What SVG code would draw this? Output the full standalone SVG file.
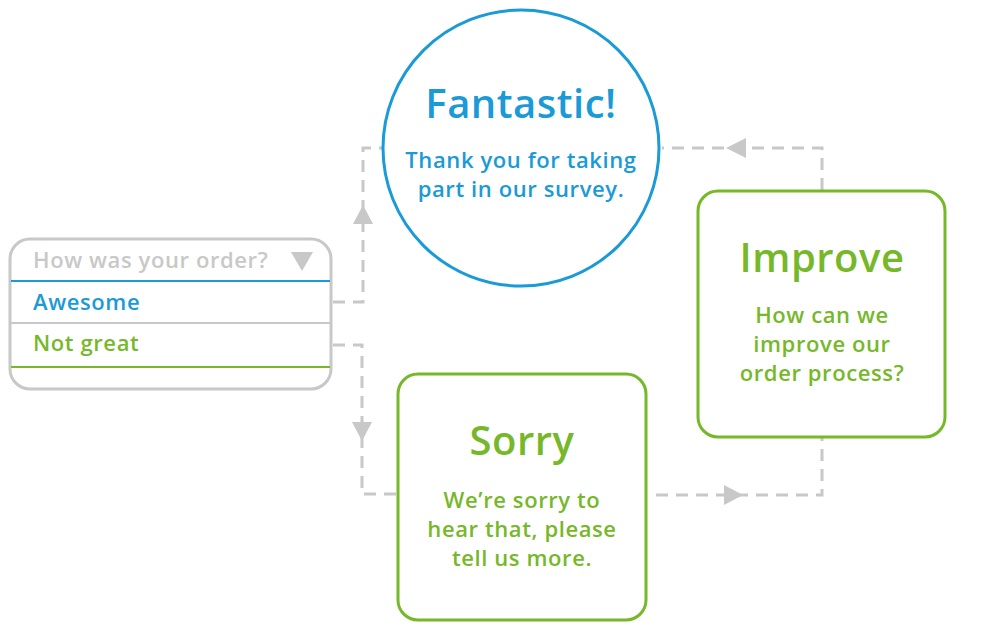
<svg xmlns="http://www.w3.org/2000/svg" width="997" height="635" viewBox="0 0 997 635">
<defs>
<style>
.t{font-family:"Open Sans","Liberation Sans",sans-serif;font-weight:600;text-anchor:middle}
.blue{fill:#1a9ad6}
.green{fill:#76b82a}
.big{font-size:40px;letter-spacing:0.5px}
.sm{font-size:22px;letter-spacing:0.6px}
.dd{font-family:"Open Sans","Liberation Sans",sans-serif;font-weight:600;font-size:22px;letter-spacing:0.6px}
.conn{fill:none;stroke:#c8c8c8;stroke-width:3;stroke-dasharray:12 8}
.arr{fill:#c8c8c8}
</style>
</defs>
<rect width="997" height="635" fill="#ffffff"/>
<g id="connectors">
<path class="conn" d="M333 302 H363 V148 H383"/>
<polygon class="arr" points="363,205 353,224 373,224"/>
<path class="conn" d="M333 345 H362 V494 H398"/>
<polygon class="arr" points="362,441 352,422 372,422"/>
<path class="conn" d="M656 495 H822 V438"/>
<polygon class="arr" points="743,495 724,485 724,505"/>
<path class="conn" d="M822 190 V148 H662"/>
<polygon class="arr" points="726,148 746,138 746,158"/>
</g>
<g id="dropdown">
<rect x="10" y="239" width="321" height="150" rx="20" fill="#fff" stroke="#c8c8c8" stroke-width="3"/>
<text class="dd" x="33" y="268" fill="#c8c8c8">How was your order?</text>
<polygon points="291,252 313,252 302,271" fill="#c8c8c8"/>
<line x1="11" y1="281" x2="330" y2="281" stroke="#1a9ad6" stroke-width="2"/>
<text class="dd" x="33" y="310" fill="#1a9ad6">Awesome</text>
<line x1="11" y1="323" x2="330" y2="323" stroke="#c8c8c8" stroke-width="2"/>
<text class="dd" x="33" y="351" fill="#76b82a">Not great</text>
<line x1="11" y1="367" x2="330" y2="367" stroke="#76b82a" stroke-width="2"/>
</g>
<g id="fantastic">
<circle cx="521" cy="148" r="138" fill="#fff" stroke="#1a9ad6" stroke-width="3"/>
<text class="t blue big" x="521" y="118">Fantastic!</text>
<text class="t blue sm" x="521" y="168">Thank you for taking</text>
<text class="t blue sm" x="521" y="197">part in our survey.</text>
</g>
<g id="improve">
<rect x="698" y="191" width="247" height="246" rx="20" fill="#fff" stroke="#76b82a" stroke-width="3"/>
<text class="t green big" x="822" y="272">Improve</text>
<text class="t green sm" x="822" y="323">How can we</text>
<text class="t green sm" x="822" y="352">improve our</text>
<text class="t green sm" x="822" y="381">order process?</text>
</g>
<g id="sorry">
<rect x="398" y="374" width="248" height="246" rx="20" fill="#fff" stroke="#76b82a" stroke-width="3"/>
<text class="t green big" x="522" y="455">Sorry</text>
<text class="t green sm" x="522" y="508">We’re sorry to</text>
<text class="t green sm" x="522" y="537">hear that, please</text>
<text class="t green sm" x="522" y="566">tell us more.</text>
</g>
</svg>
